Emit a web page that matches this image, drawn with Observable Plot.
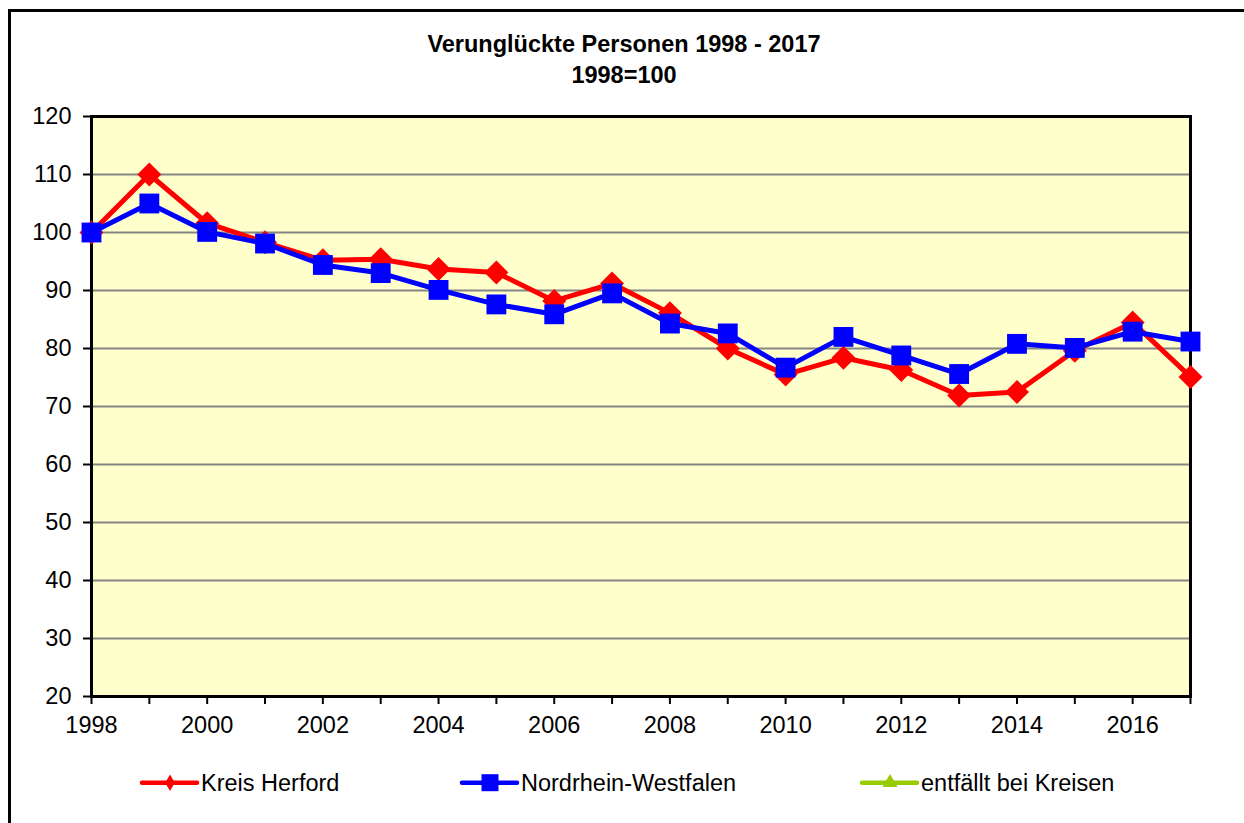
<!DOCTYPE html>
<html>
<head>
<meta charset="utf-8">
<script src="https://cdn.jsdelivr.net/npm/d3@7"></script>
<script src="https://cdn.jsdelivr.net/npm/@observablehq/plot@0.6"></script>
<style>
  html, body { margin: 0; padding: 0; background: #fff; overflow: hidden; width: 1244px; height: 823px; }
  body { position: relative; font-family: "Liberation Sans", Arial, sans-serif; color: #000; }
  #frame { position: absolute; left: 8px; top: 9px; width: 1300px; height: 900px; border: 3px solid #000; box-sizing: border-box; }
  #title { position: absolute; left: 0; top: 29px; width: 1244px; padding-left: 4px; box-sizing: border-box; text-align: center;
           font-weight: bold; font-size: 23.5px; line-height: 31px; }
  #chart { position: absolute; left: 0; top: 100px; }
  #legend { position: absolute; left: 0; top: 760px; }
</style>
</head>
<body>
<div id="frame"></div>
<div id="title">Verunglückte Personen 1998 - 2017<br>1998=100</div>
<div id="chart"></div>
<div id="legend"></div>
<script>
// ---- data ----
const years   = [1998,1999,2000,2001,2002,2003,2004,2005,2006,2007,2008,2009,2010,2011,2012,2013,2014,2015,2016,2017];
const herford = [100,110,101.6,98.3,95.2,95.4,93.7,93.1,88.2,91.2,86.1,80.0,75.5,78.4,76.3,71.9,72.5,79.6,84.5,75.1];
const nrw     = [100,105,100.1,98.1,94.4,93.0,90.1,87.6,85.9,89.5,84.3,82.6,76.7,82.0,78.8,75.6,80.8,80.1,82.9,81.2];
const yTicks  = [20,30,40,50,60,70,80,90,100,110,120];
const gridTicks = [30,40,50,60,70,80,90,100,110];
const seriesNames = ["Kreis Herford", "Nordrhein-Westfalen", "entfällt bei Kreisen"];

const dataH = years.map((y, i) => ({year: y, value: herford[i]}));
const dataN = years.map((y, i) => ({year: y, value: nrw[i]}));

const RED = "#FF0000", BLUE = "#0000FF", GREEN = "#99CC00";
const FS = 23.5;

const chart = Plot.plot({
  width: 1244,
  height: 640,
  marginLeft: 91,
  marginRight: 54,
  marginTop: 16,
  marginBottom: 44,
  style: {fontFamily: "'Liberation Sans', Arial, sans-serif", fontSize: FS + "px", color: "#000", background: "transparent", overflow: "visible"},
  x: {type: "linear", domain: [1998, 2017]},
  y: {domain: [20, 120]},
  marks: [
    Plot.frame({fill: "#FFFFCC", stroke: null}),
    Plot.gridY(gridTicks, {stroke: "#858585", strokeOpacity: 1, strokeWidth: 2}),
    Plot.frame({stroke: "#000", strokeWidth: 3}),
    Plot.axisY({ticks: yTicks, tickSize: 8, tickPadding: 12, strokeWidth: 2, label: null, fontSize: FS}),
    Plot.axisX({ticks: years, tickSize: 8, tickPadding: 12, strokeWidth: 2, label: null, fontSize: FS,
                tickFormat: d => (d % 2 === 0 ? String(d) : "")}),
    Plot.line(dataH, {x: "year", y: "value", stroke: RED, strokeWidth: 5, strokeLinejoin: "round"}),
    Plot.dot(dataH, {x: "year", y: "value", symbol: "diamond2", r: 10.8, fill: RED, stroke: null}),
    Plot.line(dataN, {x: "year", y: "value", stroke: BLUE, strokeWidth: 5, strokeLinejoin: "round"}),
    Plot.dot(dataN, {x: "year", y: "value", symbol: "square", r: 11.2, fill: BLUE, stroke: null})
  ]
});
document.getElementById("chart").appendChild(chart);

// ---- legend ----
const legendItems = [
  {label: seriesNames[0], color: RED,   symbol: d3.symbolDiamond,  size: 80,  x: 142},
  {label: seriesNames[1], color: BLUE,  symbol: d3.symbolSquare,   size: 289, x: 462},
  {label: seriesNames[2], color: GREEN, symbol: d3.symbolTriangle, size: 100, x: 862}
];
const lsvg = d3.select("#legend").append("svg").attr("width", 1244).attr("height", 60);
const g = lsvg.selectAll("g").data(legendItems).join("g").attr("transform", d => `translate(${d.x},22.7)`);
g.append("line").attr("x1", 0).attr("x2", 55).attr("y1", 0).attr("y2", 0)
  .attr("stroke", d => d.color).attr("stroke-width", 4.5).attr("stroke-linecap", "round");
g.append("path").attr("d", d => d3.symbol(d.symbol, d.size)())
  .attr("transform", "translate(28,0)").attr("fill", d => d.color);
g.append("text").attr("x", 59).attr("y", 8.5).text(d => d.label)
  .attr("font-family", "'Liberation Sans', Arial, sans-serif").attr("font-size", FS + "px").attr("fill", "#000");
</script>
</body>
</html>
